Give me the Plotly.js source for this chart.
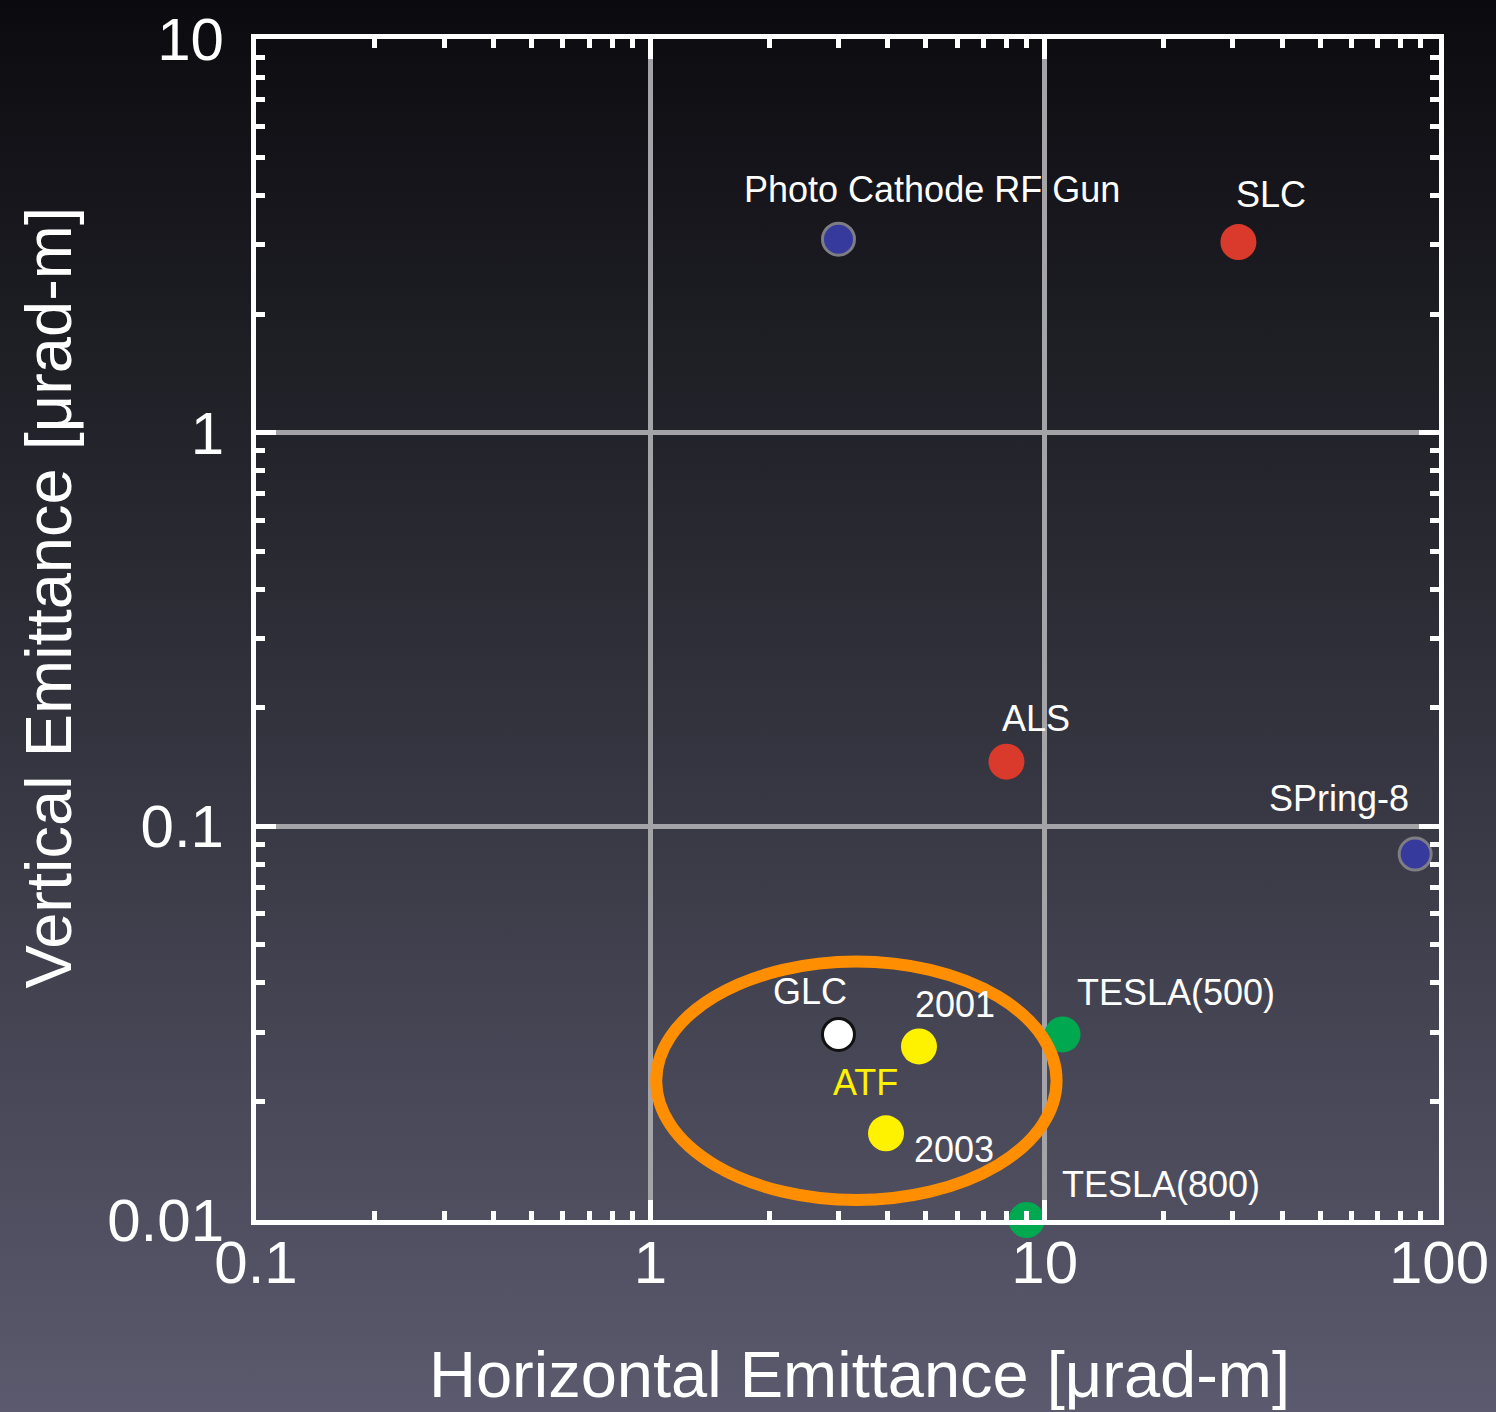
<!DOCTYPE html>
<html><head><meta charset="utf-8">
<script src="https://cdn.plot.ly/plotly-3.0.1.min.js"></script>
<style>
html,body{margin:0;padding:0;width:1496px;height:1412px;overflow:hidden;
  background:linear-gradient(to bottom,#0b0b0f 0%,#2a2a33 40%,#5b5a6e 100%);}
#chart{width:1496px;height:1412px;}
</style></head><body><div id="chart"></div>
<script>
// ---- data ----
const gunNames = ['Photo Cathode RF Gun', 'SPring-8'];
const gunX = [3.0, 87];
const gunY = [3.1, 0.085];

const ringNames = ['SLC', 'ALS'];
const ringX = [31, 8.0];
const ringY = [3.05, 0.146];

const glcNames = ['GLC'];
const glcX = [3.0];
const glcY = [0.0296];

const atfNames = ['2001', '2003'];
const atfX = [4.8, 3.96];
const atfY = [0.0276, 0.0166];

const teslaNames = ['TESLA(500)', 'TESLA(800)'];
const teslaX = [11.1, 9.0];
const teslaY = [0.0296, 0.01];

const atfRegionX = [1.035, 10.72];
const atfRegionY = [0.01124, 0.04535];

const xTickVals = [0.1, 1, 10, 100];
const xTickText = ['0.1', '1', '10', '100'];
const yTickVals = [0.01, 0.1, 1, 10];
const yTickText = ['0.01', '0.1', '1', '10'];

const xTitle = 'Horizontal Emittance [μrad-m]';
const yTitle = 'Vertical Emittance [μrad-m]';

// ---- label placement (pixel offsets from the point) ----
const labelOffset = {
  'Photo Cathode RF Gun': [94, -50],
  'SPring-8': [-76, -56],
  'SLC': [33, -48],
  'ALS': [30, -43],
  'GLC': [-28, -43],
  '2001': [36, -42],
  '2003': [68, 16],
  'TESLA(500)': [113, -42],
  'TESLA(800)': [134, -36]
};
const atfGroupOffset = [-21, -51]; // relative to ATF 2003 point

const FONT = 'Liberation Sans, Arial, Helvetica, sans-serif';

function mk(x, y, names, fill, lineColor, lineWidth, size) {
  return {
    type: 'scatter', mode: 'markers', x: x, y: y, text: names,
    hoverinfo: 'text', cliponaxis: false, showlegend: false,
    marker: {size: size, color: fill, line: {color: lineColor, width: lineWidth}}
  };
}

const traces = [
  mk(gunX, gunY, gunNames, '#353a9c', '#7d7d84', 3, 32),
  mk(ringX, ringY, ringNames, '#d93a2c', '#d93a2c', 0, 36),
  mk(glcX, glcY, glcNames, '#ffffff', '#111111', 3, 32),
  mk(atfX, atfY, atfNames, '#fff200', '#fff200', 0, 36),
  mk(teslaX, teslaY, teslaNames, '#00a84f', '#00a84f', 0, 36)
];

const annotations = [];
[[gunX, gunY, gunNames], [ringX, ringY, ringNames], [glcX, glcY, glcNames],
 [atfX, atfY, atfNames], [teslaX, teslaY, teslaNames]].forEach(([xs, ys, ns]) => {
  ns.forEach((n, i) => {
    const off = labelOffset[n];
    annotations.push({
      x: Math.log10(xs[i]), y: Math.log10(ys[i]), xref: 'x', yref: 'y',
      text: n, showarrow: false, xanchor: 'center', yanchor: 'middle',
      xshift: off[0], yshift: -off[1],
      font: {family: FONT, size: 36, color: '#ffffff'}
    });
  });
});
annotations.push({
  x: Math.log10(atfX[1]), y: Math.log10(atfY[1]), xref: 'x', yref: 'y',
  text: 'ATF', showarrow: false, xanchor: 'center', yanchor: 'middle',
  xshift: atfGroupOffset[0], yshift: -atfGroupOffset[1],
  font: {family: FONT, size: 36, color: '#fff200'}
});
// axis titles
annotations.push({
  x: 0.5101, y: -0.131, xref: 'paper', yref: 'paper', text: xTitle,
  showarrow: false, xanchor: 'center', yanchor: 'middle',
  font: {family: FONT, size: 65, color: '#ffffff'}
});
annotations.push({
  x: -0.1754, y: 0.5266, xref: 'paper', yref: 'paper', text: yTitle,
  showarrow: false, xanchor: 'center', yanchor: 'middle', textangle: -90,
  font: {family: FONT, size: 65, color: '#ffffff'}
});

const axisCommon = {
  type: 'log', showline: true, linecolor: '#ffffff', linewidth: 5, mirror: 'ticks',
  ticks: 'inside', ticklen: 20, tickwidth: 5, tickcolor: '#ffffff',
  showgrid: true, gridcolor: '#a3a3a8', gridwidth: 5, zeroline: false,
  tickfont: {family: FONT, size: 60, color: '#ffffff'},
  tickmode: 'array',
  minor: {ticks: 'inside', ticklen: 9, tickwidth: 5, tickcolor: '#ffffff', dtick: 'D1', showgrid: false}
};

const layout = {
  width: 1496, height: 1412,
  paper_bgcolor: 'rgba(0,0,0,0)', plot_bgcolor: 'rgba(0,0,0,0)',
  margin: {l: 256, r: 57, t: 39, b: 192, autoexpand: false},
  font: {family: FONT, color: '#ffffff'},
  xaxis: Object.assign({}, axisCommon, {
    range: [-1, 2], tickvals: xTickVals, ticktext: xTickText,
    ticklabelstandoff: -14
  }),
  yaxis: Object.assign({}, axisCommon, {
    range: [-2, 1], tickvals: yTickVals, ticktext: yTickText,
    ticklabelstandoff: 15
  }),
  shapes: [{
    type: 'circle', xref: 'x', yref: 'y', layer: 'above',
    x0: atfRegionX[0], x1: atfRegionX[1], y0: atfRegionY[0], y1: atfRegionY[1],
    line: {color: '#ff8f00', width: 12}
  }],
  annotations: annotations
};

Plotly.newPlot('chart', traces, layout, {displayModeBar: false, staticPlot: true});
</script></body></html>
